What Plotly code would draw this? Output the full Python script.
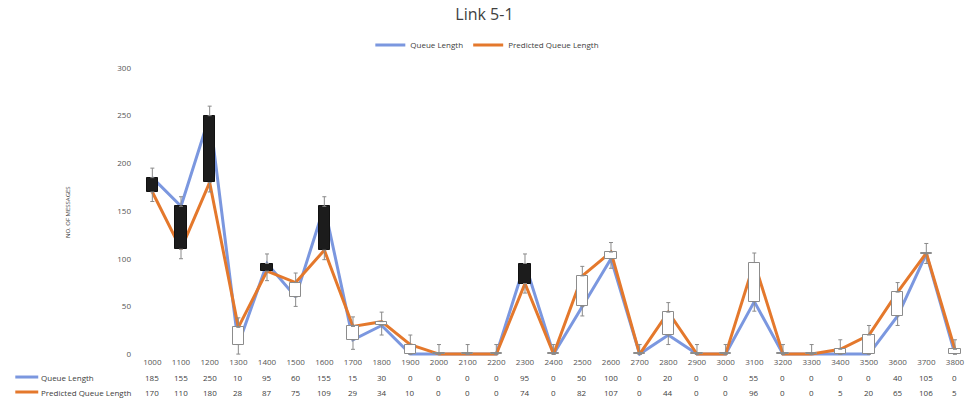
import plotly.graph_objects as go

# Link 5-1: measured vs predicted queue length per time step
categories = ["1000", "1100", "1200", "1300", "1400", "1500", "1600", "1700", "1800", "1900",
              "2000", "2100", "2200", "2300", "2400", "2500", "2600", "2700", "2800", "2900",
              "3000", "3100", "3200", "3300", "3400", "3500", "3600", "3700", "3800"]
queue_length = [185, 155, 250, 10, 95, 60, 155, 15, 30, 0,
                0, 0, 0, 95, 0, 50, 100, 0, 20, 0,
                0, 55, 0, 0, 0, 0, 40, 105, 0]
predicted_length = [170, 110, 180, 28, 87, 75, 109, 29, 34, 10,
                    0, 0, 0, 74, 0, 82, 107, 0, 44, 0,
                    0, 96, 0, 0, 5, 20, 65, 106, 5]
whisker = 10
y_ticks = [0, 50, 100, 150, 200, 250, 300]

BLUE = "#7b97df"
ORANGE = "#e4782c"
FONT = "Open Sans, Liberation Sans, sans-serif"

x = list(range(len(categories)))
lo = [min(a, b) for a, b in zip(queue_length, predicted_length)]
hi = [max(a, b) for a, b in zip(queue_length, predicted_length)]
span = [h - l for h, l in zip(hi, lo)]
down = [q > p for q, p in zip(queue_length, predicted_length)]

fig = go.Figure()

fig.add_trace(go.Scatter(x=x, y=queue_length, mode="lines", name="Queue Length",
                         line=dict(color=BLUE, width=3), xaxis="x", yaxis="y"))
fig.add_trace(go.Scatter(x=x, y=predicted_length, mode="lines", name="Predicted Queue Length",
                         line=dict(color=ORANGE, width=3), xaxis="x", yaxis="y"))

# up/down boxes between the two series (black: prediction below, white: above)
fig.add_trace(go.Bar(
    x=x, y=[max(s, 1.2) for s in span], base=lo, width=0.4,
    marker=dict(color=["#1c1c1c" if d else "#ffffff" for d in down],
                line=dict(color=["#111111" if d else "#8c8c8c" for d in down], width=1)),
    showlegend=False, hoverinfo="skip", xaxis="x2", yaxis="y2"))

# high/low whiskers
fig.add_trace(go.Scatter(
    x=x, y=hi, mode="markers", marker=dict(size=1, color="rgba(0,0,0,0)"),
    error_y=dict(type="data", symmetric=False, array=[whisker] * len(x),
                 arrayminus=[0] * len(x), color="#8a8a8a", thickness=1, width=2),
    showlegend=False, hoverinfo="skip", xaxis="x2", yaxis="y2"))
fig.add_trace(go.Scatter(
    x=x, y=lo, mode="markers", marker=dict(size=1, color="rgba(0,0,0,0)"),
    error_y=dict(type="data", symmetric=False, array=[0] * len(x),
                 arrayminus=[min(whisker, v) for v in lo], color="#8a8a8a", thickness=1, width=2),
    showlegend=False, hoverinfo="skip", xaxis="x2", yaxis="y2"))

xr = [-0.5, 28.28]
yr = [-2, 300]
tickfont = dict(family=FONT, size=8, color="#555555")

fig.update_layout(
    width=965, height=402,
    margin=dict(l=138, r=0, t=68, b=46),
    paper_bgcolor="white", plot_bgcolor="white",
    title=dict(text="Link 5-1", x=0.502, xanchor="center", y=0.963, yanchor="middle",
               font=dict(family=FONT, size=16, color="#404040")),
    legend=dict(orientation="h", xref="container", x=0.505, xanchor="center",
                yref="container", y=0.888, yanchor="middle",
                font=dict(family=FONT, size=8, color="#404040"),
                itemwidth=30, bgcolor="rgba(0,0,0,0)"),
    xaxis=dict(range=xr, tickvals=x, ticktext=categories, showgrid=False, zeroline=False,
               showline=False, ticks="", tickfont=tickfont, ticklabeloverflow="allow"),
    yaxis=dict(range=yr, tickvals=y_ticks, showgrid=False, zeroline=False, showline=False,
               ticks="", tickfont=tickfont, ticklabelstandoff=6),
    xaxis2=dict(range=xr, overlaying="x", visible=False),
    yaxis2=dict(range=yr, overlaying="y", visible=False),
    bargap=0,
)

# y-axis title
fig.add_annotation(text="NO. OF MESSAGES", textangle=-90, xref="paper", yref="paper",
                   x=-0.092, y=0.5, showarrow=False,
                   font=dict(family=FONT, size=6, color="#404040"))

# data table under the axis
rows = [("Queue Length", queue_length, BLUE, -0.073),
        ("Predicted Queue Length", predicted_length, ORANGE, -0.125)]
for label, values, color, ry in rows:
    fig.add_shape(type="line", xref="paper", yref="paper",
                  x0=(15 - 138) / 827, x1=(38 - 138) / 827, y0=ry, y1=ry,
                  line=dict(color=color, width=3))
    fig.add_annotation(text=label, xref="paper", yref="paper", x=(39 - 138) / 827, y=ry,
                       xanchor="left", yanchor="middle", showarrow=False,
                       font=dict(family=FONT, size=8, color="#404040"))
    for xi, v in zip(x, values):
        fig.add_annotation(text=str(v), xref="x", yref="paper", x=xi, y=ry,
                           xanchor="center", yanchor="middle", showarrow=False,
                           font=dict(family=FONT, size=8, color="#404040"))

fig.write_html("out.html")
